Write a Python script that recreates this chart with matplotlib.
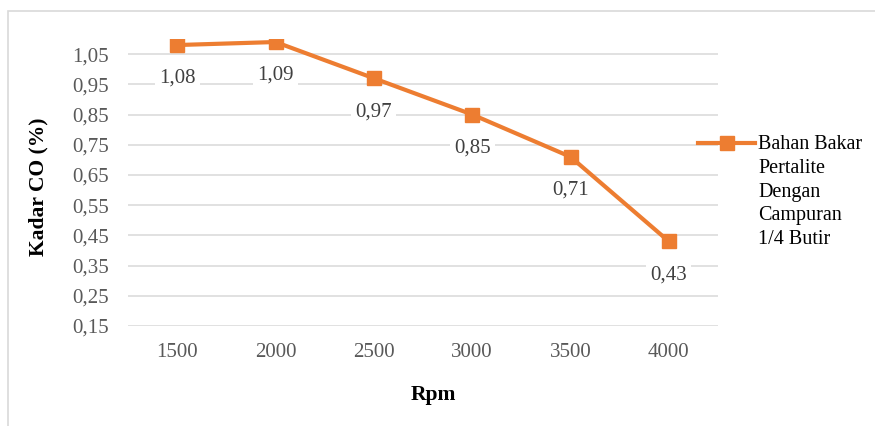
import matplotlib
matplotlib.use("Agg")
import matplotlib.pyplot as plt
from matplotlib.lines import Line2D
from matplotlib.patches import Rectangle

plt.rcParams['font.family'] = ['Liberation Serif', 'DejaVu Serif']

rpm = ["1500", "2000", "2500", "3000", "3500", "4000"]
co_values = [1.08, 1.09, 0.97, 0.85, 0.71, 0.43]
y_ticks = [0.15, 0.25, 0.35, 0.45, 0.55, 0.65, 0.75, 0.85, 0.95, 1.05]
series_label = "Bahan Bakar\nPertalite\nDengan\nCampuran\n1/4 Butir"

W, H = 875, 426
fig = plt.figure(figsize=(W / 100, H / 100), dpi=100)
orange = "#ED7D31"
grid_c = "#D9D9D9"
tick_c = "#595959"


def fx(px):
    return px / W


def fy(py):
    return 1 - py / H


# outer chart border
fig.add_artist(Rectangle((fx(7.5), fy(440)), fx(880), fy(10.5) - fy(440),
                         transform=fig.transFigure, fill=False,
                         edgecolor=grid_c, linewidth=1.2))

ax = fig.add_axes([fx(128), fy(326), fx(718) - fx(128), fy(39) - fy(326)])
x = list(range(len(rpm)))
ax.set_xlim(-0.5, len(rpm) - 0.5)
ax.set_ylim(0.15, 1.10)

ax.set_yticks(y_ticks)
ax.set_yticklabels([f"{v:.2f}".replace(".", ",") for v in y_ticks])
ax.set_xticks(x)
ax.set_xticklabels(rpm)
ax.tick_params(axis='both', length=0, labelsize=15, labelcolor=tick_c)
ax.tick_params(axis='y', pad=14)
ax.tick_params(axis='x', pad=12)

for s in ax.spines.values():
    s.set_visible(False)
ax.yaxis.grid(True, color=grid_c, linewidth=1.1)
ax.set_axisbelow(True)

ax.plot(x, co_values, color=orange, linewidth=3.0, marker='s',
        markersize=10, markerfacecolor=orange, markeredgecolor=orange,
        zorder=3)

for xi, v in zip(x, co_values):
    ax.annotate(f"{v:.2f}".replace(".", ","), (xi, v), xytext=(0, -24),
                textcoords='offset points', ha='center', va='center',
                fontsize=15, color="#404040", zorder=2,
                bbox=dict(boxstyle='square,pad=0.2', facecolor='white',
                          edgecolor='none'))

ax.set_ylabel("Kadar CO (%)", fontsize=15.5, fontweight='bold', color='black',
              va='center')
ax.yaxis.set_label_coords(fx(38), fy(187), transform=fig.transFigure)
ax.set_xlabel("Rpm", fontsize=15.5, fontweight='bold', color='black',
              va='center')
ax.xaxis.set_label_coords(fx(433), fy(395), transform=fig.transFigure)

# legend
fig.add_artist(Line2D([fx(698), fx(755)], [fy(143), fy(143)],
                      transform=fig.transFigure, color=orange, linewidth=3.0))
fig.add_artist(Line2D([fx(727)], [fy(143)], transform=fig.transFigure,
                      marker='s', markersize=10, color=orange, linestyle='none'))
fig.text(fx(758), fy(135), series_label, fontsize=14.5, color='black',
         ha='left', va='top', multialignment='left', linespacing=1.34)

fig.savefig("out.png", dpi=100)
